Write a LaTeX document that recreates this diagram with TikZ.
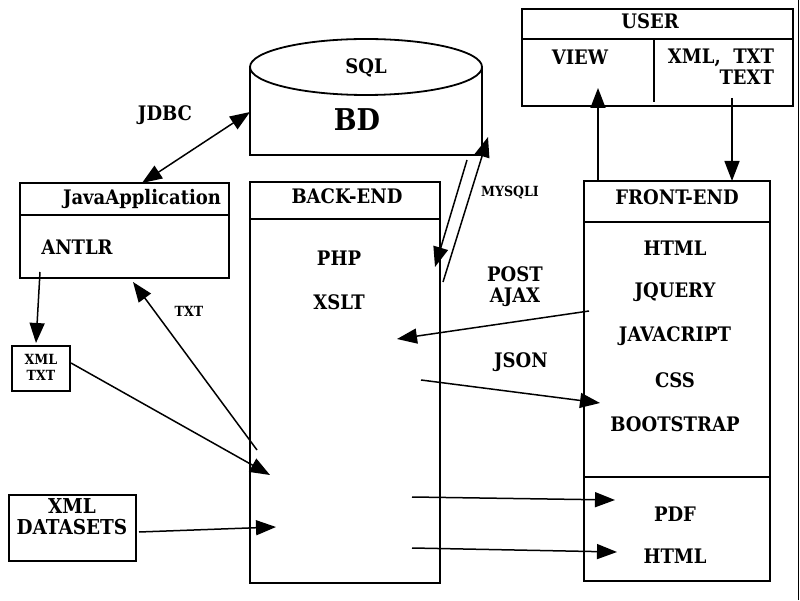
\documentclass[tikz,border=0pt]{standalone}
\usepackage{fontspec}
\setmainfont{DejaVu Serif Condensed}
\usepackage{tikz}
\usetikzlibrary{arrows.meta}

\tikzset{
  box/.style={shape=rectangle, draw=black, line width=1.8pt, inner sep=0pt},
  lbl/.style={font=\bfseries\fontsize{20}{21}\selectfont, align=center, inner sep=1pt},
  tiny/.style={font=\bfseries\fontsize{14}{16}\selectfont, align=center, inner sep=1pt},
  link/.style={line width=1.5pt, -{Triangle[length=20pt,width=15pt]}},
}

\begin{document}
\begin{tikzpicture}
\useasboundingbox (0pt,0pt) rectangle (800pt,600pt);
\draw[line width=0.8pt] (798pt,0pt) -- (798pt,600pt);

% database
\draw[line width=1.8pt] (250pt,533pt) -- (250pt,445pt) -- (482pt,445pt) -- (482pt,533pt);
\draw[line width=1.8pt, fill=white] (366pt,533pt) ellipse (116pt and 28pt);
\node[lbl] (sql) at (366pt,532pt) {SQL};
\node[lbl, font=\bfseries\fontsize{30}{32}\selectfont] (bd) at (357pt,480pt) {BD};

% java application
\node[box, minimum width=209pt, minimum height=95pt] (java) at (124.5pt,369.5pt) {};
\draw[line width=1.8pt] (20pt,385pt) -- (229pt,385pt);
\node[lbl] (javatitle) at (142pt,401pt) {JavaApplication};
\node[lbl] (antlr) at (77pt,353pt) {ANTLR};
\node[lbl] (jdbc) at (165pt,485pt) {JDBC};

% back-end
\node[box, minimum width=190pt, minimum height=401pt] (backend) at (345pt,217.5pt) {};
\draw[line width=1.8pt] (250pt,381pt) -- (440pt,381pt);
\node[lbl] (betitle) at (347pt,404pt) {BACK-END};
\node[lbl] (php) at (339pt,342pt) {PHP};
\node[lbl] (xslt) at (339pt,298pt) {XSLT};

% user
\node[box, minimum width=271pt, minimum height=97pt] (user) at (657.5pt,542.5pt) {};
\draw[line width=1.8pt] (522pt,561pt) -- (793pt,561pt);
\draw[line width=1.8pt] (654pt,561pt) -- (654pt,498pt);
\node[lbl] (usertitle) at (650pt,579pt) {USER};
\node[lbl] (view) at (580pt,543pt) {VIEW};
\node[lbl, align=right] (formats) at (721pt,533pt) {XML,\ \ TXT\\TEXT};

% front-end
\node[box, minimum width=186pt, minimum height=400pt] (frontend) at (677pt,219pt) {};
\draw[line width=1.8pt] (584pt,378pt) -- (770pt,378pt);
\draw[line width=1.8pt] (584pt,123pt) -- (770pt,123pt);
\node[lbl] (fetitle) at (677pt,403pt) {FRONT-END};
\foreach \t [count=\i, evaluate=\i as \y using 396-44*\i] in {HTML,JQUERY,JAVACRIPT,CSS,BOOTSTRAP}
  {\node[lbl] (fe\i) at (675pt,\y pt) {\t};}
\node[lbl] (pdf) at (675pt,86pt) {PDF};
\node[lbl] (html) at (675pt,44pt) {HTML};

% inputs
\node[box, minimum width=58pt, minimum height=45pt] (xmltxt) at (41pt,231.5pt) {};
\node[tiny, font=\bfseries\fontsize{14}{16}\selectfont] (xmltxtlbl) at (41pt,233pt) {XML\\TXT};
\node[box, minimum width=127pt, minimum height=66pt] (datasets) at (72.5pt,72pt) {};
\node[lbl, font=\bfseries\fontsize{20.5}{21}\selectfont] (datasetslbl) at (72pt,83pt) {XML\\DATASETS};

% labels
\node[lbl] (post) at (515pt,313pt) {POST\\AJAX};
\node[lbl] (json) at (521pt,238pt) {JSON};
\node[tiny] (txt) at (189pt,289pt) {TXT};
\node[tiny] (mysqli) at (510pt,407pt) {MYSQLI};

% arrow ends
\coordinate (jdbcA) at (142pt,417pt);
\coordinate (jdbcB) at (250pt,488pt);
\coordinate (sqlA) at (467pt,440pt);
\coordinate (sqlB) at (435pt,333pt);
\coordinate (sqlC) at (443pt,318pt);
\coordinate (sqlD) at (488pt,463pt);
\coordinate (viewA) at (598pt,420pt);
\coordinate (viewB) at (598pt,512pt);
\coordinate (textA) at (732pt,502pt);
\coordinate (textB) at (732pt,419pt);
\coordinate (postA) at (589pt,289pt);
\coordinate (postB) at (397pt,261pt);
\coordinate (jsonA) at (421pt,220pt);
\coordinate (jsonB) at (600pt,197pt);
\coordinate (pdfA) at (412pt,103pt);
\coordinate (pdfB) at (615pt,100pt);
\coordinate (htmlA) at (412pt,52pt);
\coordinate (htmlB) at (617pt,48pt);
\coordinate (antlrA) at (40pt,328pt);
\coordinate (antlrB) at (36pt,257pt);
\coordinate (xmlA) at (71pt,237pt);
\coordinate (xmlB) at (270pt,125pt);
\coordinate (txtA) at (257pt,150pt);
\coordinate (txtB) at (133pt,318pt);
\coordinate (dsA) at (139pt,68pt);
\coordinate (dsB) at (276pt,73pt);

\draw[link, {Triangle[length=20pt,width=15pt]}-{Triangle[length=20pt,width=15pt]}] (jdbcA) -- (jdbcB);
\draw[link] (sqlA) -- (sqlB);
\draw[link] (sqlC) -- (sqlD);
\draw[link] (viewA) -- (viewB);
\draw[link] (textA) -- (textB);
\draw[link] (postA) -- (postB);
\draw[link] (jsonA) -- (jsonB);
\draw[link] (pdfA) -- (pdfB);
\draw[link] (htmlA) -- (htmlB);
\draw[link] (antlrA) -- (antlrB);
\draw[link] (xmlA) -- (xmlB);
\draw[link] (txtA) -- (txtB);
\draw[link] (dsA) -- (dsB);

\end{tikzpicture}
\end{document}
